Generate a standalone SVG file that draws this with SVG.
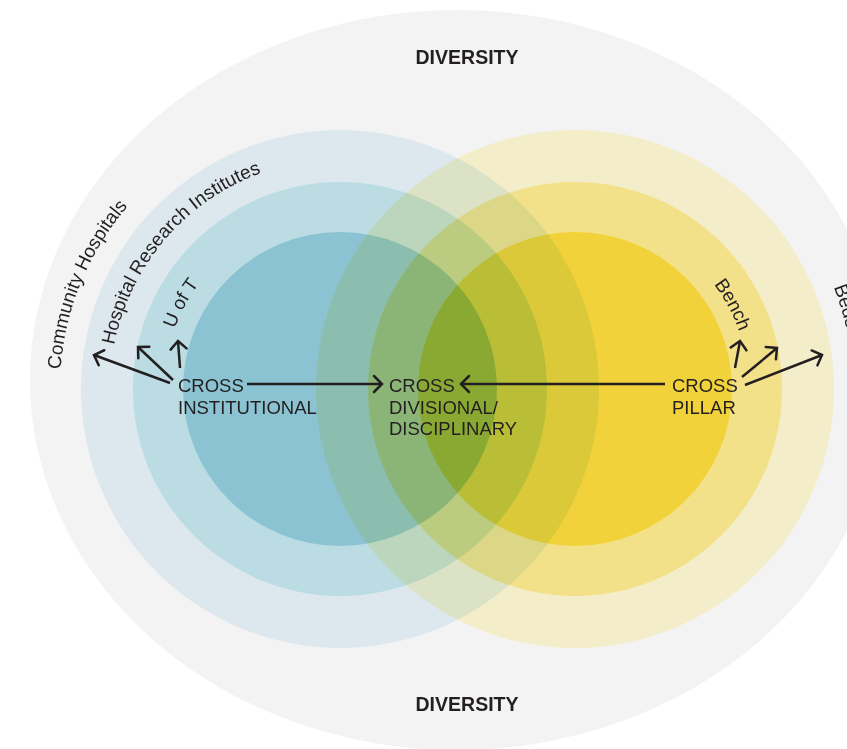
<svg xmlns="http://www.w3.org/2000/svg" xmlns:xlink="http://www.w3.org/1999/xlink" width="847" height="749" viewBox="0 0 847 749">
<style>
.lbl{font-family:"Liberation Sans",Arial,sans-serif;font-size:18.5px;fill:#231f20}
.div{font-family:"Liberation Sans",Arial,sans-serif;font-size:19.5px;font-weight:bold;fill:#231f20;text-anchor:middle}
.arc{font-family:"Liberation Sans",Arial,sans-serif;font-size:19px;fill:#231f20}
.con{stroke:#231f20;stroke-width:2.5;fill:none;marker-end:url(#chev)}
.mul{mix-blend-mode:multiply}
</style>
<defs>
<marker id="chev" markerUnits="userSpaceOnUse" viewBox="-12 -10 14 20" refX="0" refY="0" markerWidth="14" markerHeight="20" orient="auto" overflow="visible">
<path d="M-8,-8 L0,0 L-8,8" fill="none" stroke="#231f20" stroke-width="2.5" stroke-linecap="round" stroke-linejoin="miter"/>
</marker>
<path id="pCommunity" d="M60.7,369.5 A280,280 0 0 1 200,146.5"/>
<path id="pHospital" d="M114.2,345.1 A230,230 0 0 1 300.1,162.5"/>
<path id="pUofT" d="M174.6,328.8 A176,176 0 0 1 279.8,223.6"/>
<path id="pBench" d="M714,284.3 A174,174 0 0 1 746.4,419.2"/>
<path id="pBedside" d="M833.7,287.1 A278,278 0 0 1 836.2,484.1"/>
</defs>
<rect width="847" height="749" fill="#ffffff"/>
<g id="diversity-field">
<ellipse cx="457" cy="380" rx="427" ry="370" fill="#f3f3f3"/>
</g>
<g id="institutional-circles" class="mul">
<circle cx="340" cy="389" r="259" fill="#e7f4fa"/>
<circle cx="340" cy="389" r="207" fill="#c5e7ef"/>
<circle cx="340" cy="389" r="157" fill="#92cddd"/>
</g>
<g id="pillar-circles" class="mul">
<circle cx="575" cy="389" r="259" fill="#fff9d3"/>
<circle cx="575" cy="389" r="207" fill="#ffed91"/>
<circle cx="575" cy="389" r="157" fill="#fedd3d"/>
</g>
<g id="label-diversity-top"><text class="div" x="467" y="64">DIVERSITY</text></g>
<g id="label-diversity-bottom"><text class="div" x="467" y="711">DIVERSITY</text></g>
<g id="label-community"><text class="arc"><textPath xlink:href="#pCommunity" href="#pCommunity">Community Hospitals</textPath></text></g>
<g id="label-hospital"><text class="arc"><textPath xlink:href="#pHospital" href="#pHospital">Hospital Research Institutes</textPath></text></g>
<g id="label-uoft"><text class="arc"><textPath xlink:href="#pUofT" href="#pUofT">U of T</textPath></text></g>
<g id="label-bench"><text class="arc"><textPath xlink:href="#pBench" href="#pBench">Bench</textPath></text></g>
<g id="label-bedside"><text class="arc"><textPath xlink:href="#pBedside" href="#pBedside">Bedside</textPath></text></g>
<g id="node-institutional"><text class="lbl" x="178" y="392">CROSS</text><text class="lbl" x="178" y="414">INSTITUTIONAL</text></g>
<g id="node-divisional"><text class="lbl" x="389" y="392">CROSS</text><text class="lbl" x="389" y="414">DIVISIONAL/</text><text class="lbl" x="389" y="435">DISCIPLINARY</text></g>
<g id="node-pillar"><text class="lbl" x="672" y="392">CROSS</text><text class="lbl" x="672" y="414">PILLAR</text></g>
<g id="connectors">
<line class="con" x1="247" y1="384" x2="382" y2="384"/>
<line class="con" x1="665" y1="384" x2="461" y2="384"/>
<line class="con" x1="170" y1="383" x2="94" y2="355"/>
<line class="con" x1="173" y1="380" x2="138" y2="347"/>
<line class="con" x1="180" y1="368" x2="178" y2="341"/>
<line class="con" x1="735" y1="368" x2="740" y2="341"/>
<line class="con" x1="742" y1="377" x2="777" y2="348"/>
<line class="con" x1="745" y1="385" x2="822" y2="355"/>
</g>
</svg>
